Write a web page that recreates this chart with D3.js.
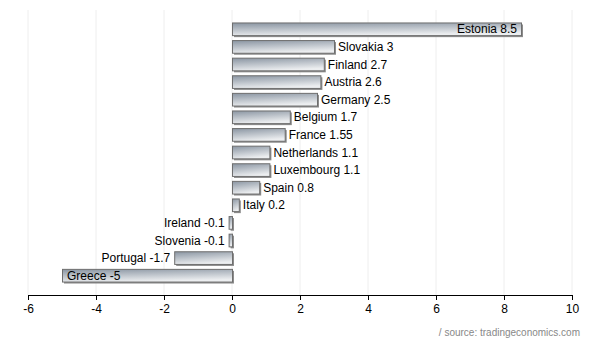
<!DOCTYPE html>
<html><head><meta charset="utf-8">
<script src="https://cdn.jsdelivr.net/npm/d3@7"></script>
<style>body{margin:0;background:#fff;font-family:"Liberation Sans",Arial,sans-serif;}</style>
</head><body><svg id="c" width="600" height="350"></svg>
<script>
const countries = ["Estonia","Slovakia","Finland","Austria","Germany","Belgium","France","Netherlands","Luxembourg","Spain","Italy","Ireland","Slovenia","Portugal","Greece"];
const values = [8.5,3,2.7,2.6,2.5,1.7,1.55,1.1,1.1,0.8,0.2,-0.1,-0.1,-1.7,-5];
const ticks = [-6,-4,-2,0,2,4,6,8,10];
const source = "/ source: tradingeconomics.com";

const svg = d3.select("#c");
const x = d3.scaleLinear().domain([-6,10]).range([28,572]);
const y = d3.scaleBand().domain(countries).range([20,284]).paddingInner(0.28).paddingOuter(0.14);
const defs = svg.append("defs");
const g = defs.append("linearGradient").attr("id","bg").attr("x1","0").attr("y1","0").attr("x2","0.3").attr("y2","1");
g.append("stop").attr("offset","0").attr("stop-color","#8a95a2");
g.append("stop").attr("offset","1").attr("stop-color","#eceef0");

// gridlines
svg.append("g").selectAll("line").data(ticks).join("line")
  .attr("x1",d=>x(d)).attr("x2",d=>x(d)).attr("y1",10).attr("y2",295)
  .attr("stroke","#eeeeee").attr("stroke-width",1);

const data = countries.map((c,i)=>({c,v:values[i]}));
// shadows
svg.append("g").selectAll("rect").data(data).join("rect")
  .attr("x",d=>Math.min(x(0),x(d.v))+2).attr("y",d=>y(d.c)+2)
  .attr("width",d=>Math.max(1,Math.abs(x(d.v)-x(0)))).attr("height",y.bandwidth())
  .attr("fill","#8c8c8c");
svg.append("g").selectAll("rect").data(data).join("rect")
  .attr("x",d=>Math.min(x(0),x(d.v))+0.5).attr("y",d=>y(d.c)+0.5)
  .attr("width",d=>Math.max(1,Math.abs(x(d.v)-x(0)))).attr("height",y.bandwidth())
  .attr("fill","url(#bg)").attr("stroke","#6e6e6e").attr("stroke-width",1);

// labels
svg.append("g").selectAll("text").data(data).join("text")
  .attr("y",d=>y(d.c)+y.bandwidth()/2+4.5)
  .attr("x",d=>{
    if (d.v>=8) return x(d.v)-4;
    if (d.v<=-4) return x(d.v)+5;
    return d.v>=0 ? x(d.v)+4 : x(d.v)-4;
  })
  .attr("text-anchor",d=>{
    if (d.v>=8) return "end";
    if (d.v<=-4) return "start";
    return d.v>=0 ? "start":"end";
  })
  .attr("font-size",12).attr("fill","#000")
  .text(d=>d.c+" "+d.v);

// axis
const ax = svg.append("g").attr("transform","translate(0,295)")
  .call(d3.axisBottom(x).tickValues(ticks).tickSize(5).tickFormat(d=>String(d)));
ax.select(".domain").attr("stroke","#000");
ax.selectAll(".tick line").attr("stroke","#000");
ax.selectAll("text").attr("font-size",12).attr("font-family","Liberation Sans, Arial, sans-serif").attr("fill","#000").attr("dy","0.8em");

svg.append("text").attr("x",580).attr("y",336).attr("text-anchor","end")
  .attr("font-size",10).attr("fill","#888").text(source);
</script></body></html>
